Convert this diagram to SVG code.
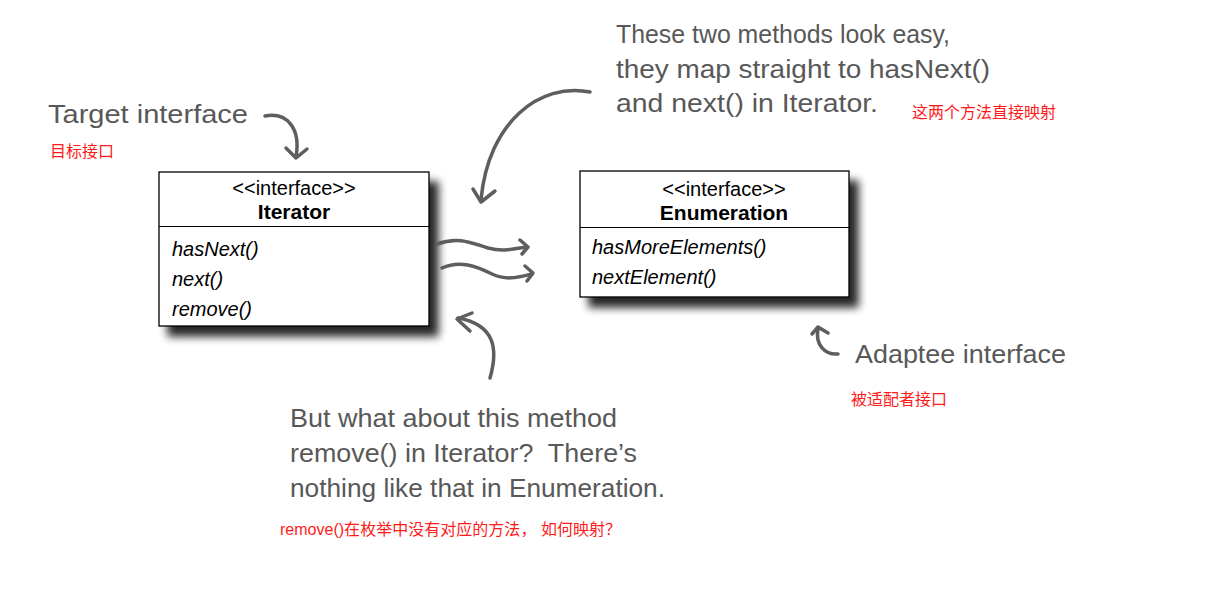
<svg xmlns="http://www.w3.org/2000/svg" width="1209" height="603" viewBox="0 0 1209 603">
<defs>
<filter id="sh" x="-10%" y="-10%" width="130%" height="140%">
<feGaussianBlur in="SourceAlpha" stdDeviation="4.5"/>
<feOffset dx="9" dy="10" result="b"/>
<feComponentTransfer><feFuncA type="linear" slope="0.85"/></feComponentTransfer>
<feMerge><feMergeNode/><feMergeNode in="SourceGraphic"/></feMerge>
</filter>
<style>
.box{fill:#fff;stroke:#000;stroke-width:1.3}
.div{stroke:#000;stroke-width:1.2}
.st{font-family:"Liberation Sans",Arial,sans-serif;font-size:20px;fill:#000;text-anchor:middle}
.nm{font-family:"Liberation Sans",Arial,sans-serif;font-size:21px;font-weight:bold;fill:#000;text-anchor:middle}
.me{font-family:"Liberation Sans",Arial,sans-serif;font-size:20px;font-style:italic;fill:#000}
.hw{font-family:"Liberation Sans Narrow","Liberation Sans",sans-serif;font-size:26px;fill:#585858;white-space:pre}
.cn{font-family:"Liberation Sans","Noto Sans CJK SC",sans-serif;font-size:16px;fill:#ff1a1a}
.ar{fill:none;stroke:#5e5e5e;stroke-width:3.5;stroke-linecap:round;stroke-linejoin:round}
</style>
</defs>
<rect width="1209" height="603" fill="#fff"/>
<g id="iterator">
<rect class="box" x="159" y="172" width="270" height="154" filter="url(#sh)"/>
<line class="div" x1="159" y1="226.5" x2="429" y2="226.5"/>
<text class="st" x="294" y="195">&lt;&lt;interface&gt;&gt;</text>
<text class="nm" x="294" y="219">Iterator</text>
<text class="me" x="172" y="256">hasNext()</text>
<text class="me" x="172" y="286">next()</text>
<text class="me" x="172" y="316">remove()</text>
</g>
<g id="enumeration">
<rect class="box" x="580" y="171" width="269" height="126" filter="url(#sh)"/>
<line class="div" x1="580" y1="227.5" x2="849" y2="227.5"/>
<text class="st" x="724" y="196">&lt;&lt;interface&gt;&gt;</text>
<text class="nm" x="724" y="220">Enumeration</text>
<text class="me" x="592" y="254">hasMoreElements()</text>
<text class="me" x="592" y="284">nextElement()</text>
</g>
<g id="note-target">
<text class="hw" x="48" y="123" font-size="28" textLength="200" lengthAdjust="spacingAndGlyphs">Target interface</text>
<text class="cn" x="50" y="157">目标接口</text>
</g>
<g id="note-easy">
<text class="hw" x="616" y="43" textLength="334" lengthAdjust="spacingAndGlyphs">These two methods look easy,</text>
<text class="hw" x="616" y="78" textLength="374" lengthAdjust="spacingAndGlyphs">they map straight to hasNext()</text>
<text class="hw" x="616" y="112" textLength="262" lengthAdjust="spacingAndGlyphs">and next() in Iterator.</text>
<text class="cn" x="912" y="118">这两个方法直接映射</text>
</g>
<g id="note-adaptee">
<text class="hw" x="855" y="363" font-size="28" textLength="211" lengthAdjust="spacingAndGlyphs">Adaptee interface</text>
<text class="cn" x="851" y="405">被适配者接口</text>
</g>
<g id="note-remove">
<text class="hw" x="290" y="427" textLength="327" lengthAdjust="spacingAndGlyphs">But what about this method</text>
<text class="hw" x="290" y="462" textLength="347" lengthAdjust="spacingAndGlyphs">remove() in Iterator?  There’s</text>
<text class="hw" x="290" y="497" textLength="375" lengthAdjust="spacingAndGlyphs">nothing like that in Enumeration.</text>
<text class="cn" x="280" y="535" textLength="341" lengthAdjust="spacing">remove()在枚举中没有对应的方法， 如何映射？</text>
</g>
<g id="connectors">
<path class="ar" d="M265,116 C287,112 301,128 296,157"/>
<path class="ar" d="M286,148 L296,158 L307,149"/>
<path class="ar" d="M590,92 C540,82 488,122 481,200"/>
<path class="ar" d="M473,189 L481,202 L495,191"/>
<path class="ar" d="M437,244 C458,236 472,243 488,248 C503,252 513,249 526,247"/>
<path class="ar" d="M520,240 L528,247 L522,254"/>
<path class="ar" d="M442,268 C460,260 476,266 492,274 C507,281 519,277 532,274"/>
<path class="ar" d="M525,266 L533,273 L527,281"/>
<path class="ar" d="M490,378 C498,350 496,325 458,318"/>
<path class="ar" d="M472,313 L457,319 L470,331"/>
<path class="ar" d="M838,354 C825,355 815,345 818,329"/>
<path class="ar" d="M812,334 L818,327 L828,333"/>
</g>
</svg>
